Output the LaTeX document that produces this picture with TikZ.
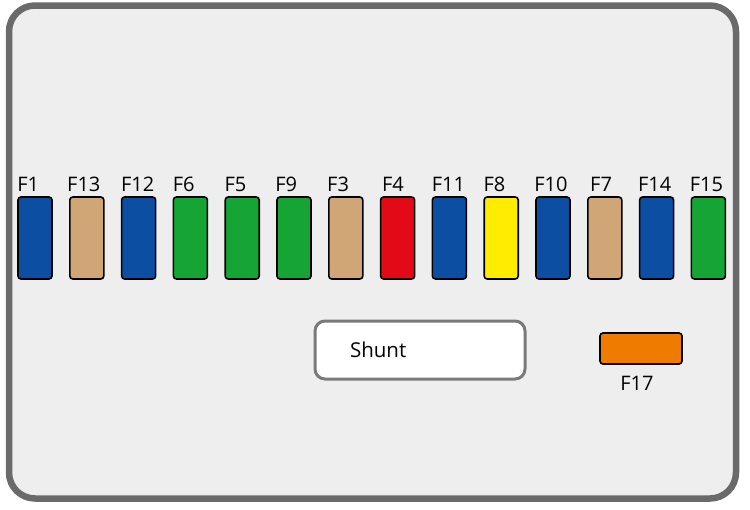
\documentclass[tikz,border=0pt]{standalone}
\usepackage{fontspec}
\setmainfont{Open Sans}
\definecolor{fblue}{HTML}{0B4EA2}
\definecolor{ftan}{HTML}{D1A677}
\definecolor{fgreen}{HTML}{16A535}
\definecolor{fred}{HTML}{E30A17}
\definecolor{fyellow}{HTML}{FFEC00}
\definecolor{forange}{HTML}{EF7B00}
\definecolor{boardfill}{HTML}{EEEEEE}
\definecolor{boardline}{HTML}{6A6A6A}
\definecolor{shuntline}{HTML}{7A7A7A}
\begin{document}
\begin{tikzpicture}[x=1pt,y=-1pt,
  fuse/.style={draw=black,line width=1.6pt,rounded corners=3pt,inner sep=0pt,
    minimum width=34pt,minimum height=82pt},
  fuselbl/.style={font=\fontsize{20}{20}\selectfont,inner sep=0pt,anchor=base west}]
  \useasboundingbox (0,0) rectangle (750,509);
  % board
  \draw[boardline,fill=boardfill,line width=6.5pt,rounded corners=26pt]
    (9,5.5) rectangle (736,498.5);

  % fuse row
  \foreach \n/\c/\dx [count=\i from 0] in {1/fblue/0,13/ftan/-2,12/fblue/0,6/fgreen/0,
      5/fgreen/0,9/fgreen/-1,3/ftan/-1,4/fred/2,11/fblue/0,8/fyellow/0,10/fblue/-1,
      7/ftan/3,14/fblue/-1,15/fgreen/-1} {
    \node[fuse,fill=\c] (f\n) at (35+\i*51.8,238) {};
    \node[fuselbl] (l\n) at ([xshift=\dx pt,yshift=5pt]f\n.north west) {F\n};
  }

  % shunt and F17
  \node[draw=shuntline,line width=3pt,rounded corners=10pt,fill=white,
    minimum height=58pt,inner xsep=35pt,text width=140pt,align=left,
    font=\fontsize{20.5}{20.5}\selectfont] (shunt) at (420,350) {Shunt};
  \node[fuse,fill=forange,minimum width=82pt,minimum height=31pt] (f17) at (641,348.5) {};
  \node[font=\fontsize{20}{20}\selectfont,inner sep=0pt,anchor=base]
    (l17) at ([xshift=-4pt,yshift=-26pt]f17.south) {F17};
\end{tikzpicture}
\end{document}
